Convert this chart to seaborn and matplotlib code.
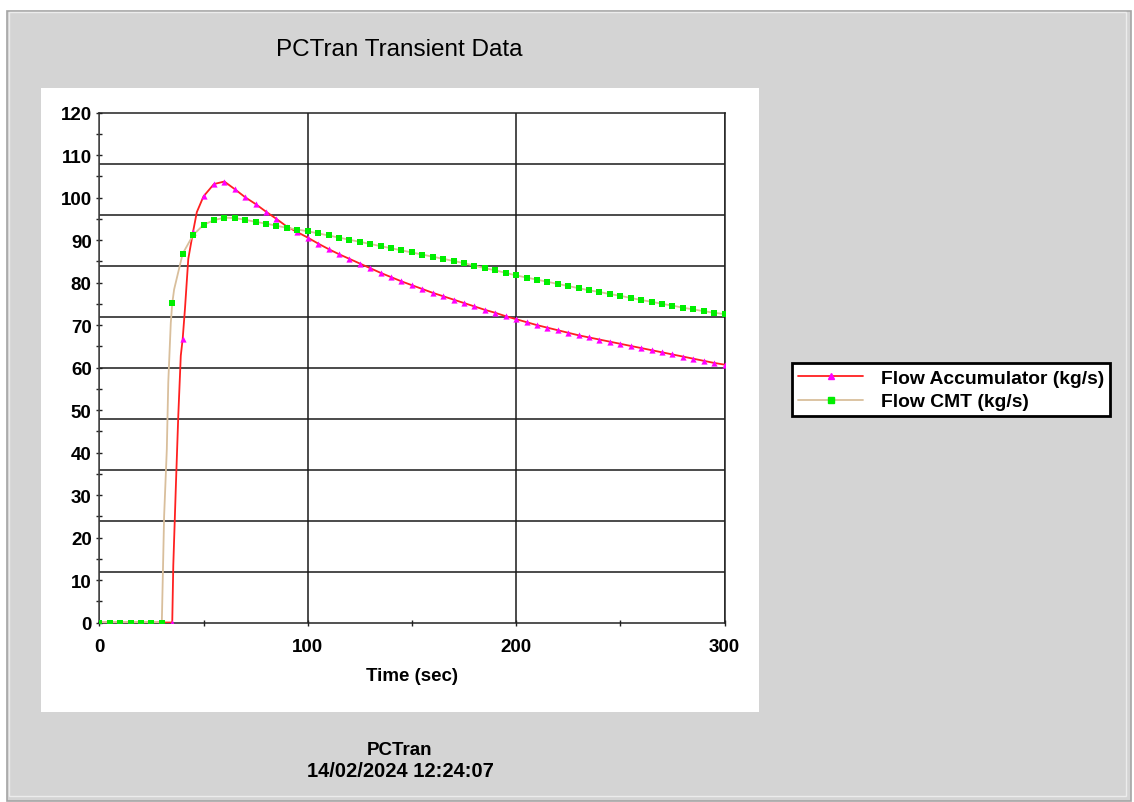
import matplotlib
matplotlib.use("Agg")
import matplotlib.pyplot as plt
from matplotlib.patches import Rectangle
from matplotlib.lines import Line2D
from matplotlib.ticker import MultipleLocator
import numpy as np
import pandas as pd
import seaborn as sns

# Datos (marcadores cada 5 s)
tiempo = [0, 5, 10, 15, 20, 25, 30, 35, 40, 45, 50, 55, 60, 65, 70, 75, 80, 85, 90, 95,
          100, 105, 110, 115, 120, 125, 130, 135, 140, 145, 150, 155, 160, 165, 170, 175,
          180, 185, 190, 195, 200, 205, 210, 215, 220, 225, 230, 235, 240, 245, 250, 255,
          260, 265, 270, 275, 280, 285, 290, 295, 300]

flujo_acumulador = [0, 0, 0, 0, 0, 0, 0, 0, 66.7, 92.0, 100.3, 103.2, 103.8, 102.0, 100.1,
                    98.5, 96.7, 95.0, 93.2, 91.9, 90.6, 89.2, 87.9, 86.7, 85.6, 84.5, 83.4,
                    82.3, 81.3, 80.3, 79.4, 78.5, 77.6, 76.8, 76.0, 75.2, 74.4, 73.6, 72.9,
                    72.1, 71.4, 70.7, 70.0, 69.4, 68.8, 68.2, 67.6, 67.1, 66.6, 66.1, 65.6,
                    65.1, 64.6, 64.1, 63.6, 63.1, 62.6, 62.1, 61.6, 61.1, 60.7]

flujo_cmt = [0, 0, 0, 0, 0, 0, 0, 75.1, 86.8, 91.2, 93.6, 94.7, 95.3, 95.2, 94.8, 94.3,
             93.9, 93.4, 92.9, 92.5, 92.1, 91.6, 91.1, 90.6, 90.1, 89.6, 89.1, 88.6, 88.1,
             87.6, 87.1, 86.6, 86.1, 85.6, 85.1, 84.6, 84.0, 83.4, 82.9, 82.3, 81.7, 81.2,
             80.7, 80.2, 79.7, 79.2, 78.7, 78.2, 77.8, 77.3, 76.9, 76.4, 75.9, 75.5, 75.0,
             74.6, 74.1, 73.7, 73.3, 72.9, 72.6]

# La linea tiene mas resolucion que los marcadores en la subida
subida_acum_t = [35.5, 36.8, 37.9, 39.1, 41.1, 42.7, 46.8]
subida_acum_v = [13.4, 33.0, 48.7, 62.8, 73.8, 85.6, 96.6]
subida_cmt_t = [31.1, 32.4, 33.1, 34.3, 35.9, 37.9]
subida_cmt_v = [25.0, 40.8, 56.6, 70.5, 78.4, 82.5]

etiquetas = ["Flow Accumulator (kg/s)", "Flow CMT (kg/s)"]

ROJO = "#ff2020"
MAGENTA = "#ff00ff"
BEIGE = "#d9bf9c"
VERDE = "#00ee00"
GRIS = "#d4d4d4"

sns.set_theme(style="white")
plt.rcParams['font.family'] = ['Liberation Sans', 'DejaVu Sans']
plt.rcParams['font.weight'] = 'bold'
for clave in ['text.color', 'axes.labelcolor', 'xtick.color', 'ytick.color']:
    plt.rcParams[clave] = 'black'

df = pd.DataFrame({"tiempo": tiempo, "acum": flujo_acumulador, "cmt": flujo_cmt})
linea_acum = pd.concat([df[["tiempo", "acum"]],
                        pd.DataFrame({"tiempo": subida_acum_t, "acum": subida_acum_v})]
                       ).sort_values("tiempo")
linea_cmt = pd.concat([df[["tiempo", "cmt"]],
                       pd.DataFrame({"tiempo": subida_cmt_t, "cmt": subida_cmt_v})]
                      ).sort_values("tiempo")

W, H = 1134, 803
fig = plt.figure(figsize=(W / 100, H / 100), dpi=100)
fig.patch.set_facecolor("white")


def rect_px(x0, y0, x1, y1, **kw):
    # caja en pixeles (desde arriba a la izquierda) -> fraccion de figura
    r = Rectangle((x0 / W, 1 - y1 / H), (x1 - x0) / W, (y1 - y0) / H,
                  transform=fig.transFigure, **kw)
    fig.patches.append(r)


# marco gris de la ventana
rect_px(7, 12, 1131, 802, facecolor=GRIS, edgecolor="#a4a4a4", lw=1.2, zorder=-10)
rect_px(9, 12.5, 1126, 797, facecolor="none", edgecolor="#ececec", lw=1.0, zorder=-9)
# panel blanco del grafico
rect_px(41, 89, 759, 712.6, facecolor="white", edgecolor="none", zorder=-8)

ax = fig.add_axes([99.3 / W, 1 - 623.5 / H, (724.5 - 99.3) / W, (623.5 - 113.7) / H])
ax.set_facecolor("white")

sns.lineplot(data=linea_acum, x="tiempo", y="acum", color=ROJO, lw=1.3, ax=ax,
             legend=False, zorder=3)
sns.scatterplot(data=df, x="tiempo", y="acum", marker="^", color=MAGENTA, s=20,
                linewidth=0, ax=ax, legend=False, zorder=4)
sns.lineplot(data=linea_cmt, x="tiempo", y="cmt", color=BEIGE, lw=1.3, ax=ax,
             legend=False, zorder=5)
sns.scatterplot(data=df, x="tiempo", y="cmt", marker="s", color=VERDE, s=17,
                linewidth=0, ax=ax, legend=False, zorder=6)

ax.set_xlim(0, 300)
ax.set_ylim(0, 120)
ax.xaxis.set_major_locator(MultipleLocator(100))
ax.xaxis.set_minor_locator(MultipleLocator(50))
ax.yaxis.set_major_locator(MultipleLocator(10))
ax.yaxis.set_minor_locator(MultipleLocator(5))
ax.tick_params(which="both", direction="inout", length=5, width=1.0, color="#222222",
               bottom=True, left=True, top=False, right=False)
ax.tick_params(axis="both", which="major", labelsize=13.5)
ax.tick_params(axis="x", pad=9)
ax.tick_params(axis="y", pad=3)

# rejilla: vertical en los ticks mayores, horizontal en 10 divisiones
ax.grid(axis="x", which="major", color="#1a1a1a", lw=1.1)
ax.grid(axis="y", visible=False)
for yv in np.linspace(0, 120, 11)[1:-1]:
    ax.axhline(yv, color="#1a1a1a", lw=1.1, zorder=1)
ax.set_axisbelow(True)

for lado in ["left", "bottom", "top", "right"]:
    ax.spines[lado].set_visible(True)
    ax.spines[lado].set_color("#222222")
    ax.spines[lado].set_linewidth(1.1)
ax.spines["left"].set_color("#444444")

ax.set_xlabel("Time (sec)", fontsize=13.5, fontweight="bold", labelpad=8)
ax.set_ylabel("")

fig.text(399 / W, 1 - 50 / H, "PCTran Transient Data", ha="center", va="center",
         fontsize=17.5, fontweight="normal")
fig.text(400 / W, 1 - 751 / H, "PCTran", ha="center", va="center",
         fontsize=13.5, fontweight="bold")
fig.text(400 / W, 1 - 772 / H, "14/02/2024 12:24:07", ha="center", va="center",
         fontsize=14.5, fontweight="bold")

manejadores = [
    Line2D([], [], color=ROJO, lw=1.3, marker="^", markersize=4.5,
           markerfacecolor=MAGENTA, markeredgecolor=MAGENTA),
    Line2D([], [], color=BEIGE, lw=1.3, marker="s", markersize=3.8,
           markerfacecolor=VERDE, markeredgecolor=VERDE),
]
leg = fig.legend(manejadores, etiquetas, loc="upper left",
                 bbox_to_anchor=(792.3 / W, 1 - 364.3 / H), bbox_transform=fig.transFigure,
                 borderaxespad=0, numpoints=1, handlelength=3.35, handletextpad=0.9,
                 borderpad=0.32, labelspacing=0.3, fancybox=False, framealpha=1,
                 prop={"size": 13.9, "weight": "bold"})
leg.get_frame().set_edgecolor("black")
leg.get_frame().set_linewidth(2.0)

fig.savefig("out.png", dpi=100)
plt.close(fig)
